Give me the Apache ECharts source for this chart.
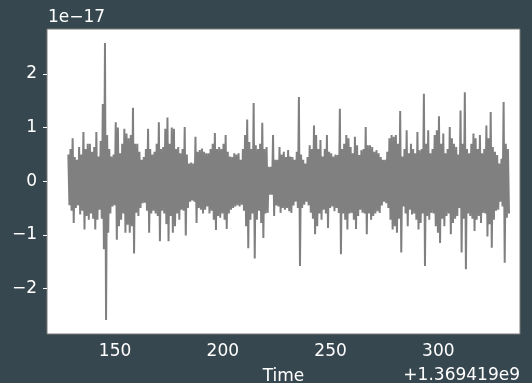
<!DOCTYPE html>
<html><head><meta charset="utf-8">
<script src="https://cdn.jsdelivr.net/npm/echarts@6/dist/echarts.min.js"></script>
<style>html,body{margin:0;padding:0;background:#37474f;}#c{width:532px;height:383px;}</style>
</head><body><div id="c"></div>
<script>
// time axis: seconds offset from 1.369419e9; values in units of 1e-17
var tStart = 128.3;
var tStep = 1;
var upperVals = [
0.5,0.6,0.8,0.45,0.4,0.64,0.5,0.92,0.6,0.7,0.7,0.55,0.64,0.92,0.46,0.75,1.44,2.58,0.86,0.6,
0.46,0.5,1.1,1.0,0.52,0.7,0.98,0.89,0.8,0.86,1.37,0.7,0.7,0.55,0.4,0.45,0.6,0.98,0.6,0.5,
0.55,0.7,1.1,0.6,0.64,0.98,1.19,0.7,1.0,0.98,0.6,0.64,0.52,0.6,1.01,0.5,0.33,0.35,0.33,0.83,
0.55,0.58,0.61,0.55,0.52,0.52,0.6,0.7,0.9,0.6,0.64,0.6,0.7,0.86,0.55,0.46,0.45,0.52,0.5,0.52,
0.4,0.6,0.86,1.15,0.73,0.6,1.46,0.67,0.6,0.7,1.09,0.6,0.64,0.27,0.27,0.86,0.4,0.4,0.64,0.5,
0.55,0.45,0.58,0.46,0.45,0.4,0.55,1.57,0.5,0.4,0.33,0.45,0.67,0.6,1.04,0.86,0.6,0.77,0.46,0.6,
0.86,0.55,0.52,0.46,0.5,0.49,1.35,0.6,0.7,0.86,0.8,0.64,0.52,0.83,0.67,0.49,0.58,0.6,1.01,0.67,
0.67,0.64,0.55,0.58,0.52,0.45,0.4,0.4,0.55,0.8,0.86,0.83,0.86,0.7,1.31,0.46,0.6,0.95,0.52,0.7,
0.6,0.52,0.92,0.58,0.6,1.63,0.7,0.95,0.52,0.6,0.86,0.95,1.21,0.7,0.89,0.52,0.6,1.01,0.8,0.7,
0.64,0.5,1.32,0.7,1.66,0.6,0.52,0.7,0.89,0.8,0.6,0.86,0.52,0.6,1.04,0.8,1.29,0.64,0.55,0.49,
0.33,0.42,1.48,0.7,0.6
];
var lowerVals = [
-0.45,-0.55,-0.78,-0.5,-0.45,-0.62,-0.55,-0.9,-0.65,-0.72,-0.6,-0.7,-0.9,-0.72,-0.53,-0.7,-1.27,-2.59,-0.96,-0.6,
-0.47,-0.45,-1.09,-0.84,-0.72,-0.6,-0.96,-0.81,-0.96,-0.84,-1.35,-0.59,-0.65,-0.5,-0.41,-0.4,-0.55,-0.96,-0.6,-0.55,
-0.6,-0.65,-1.12,-0.55,-0.6,-0.8,-1.12,-0.65,-0.96,-0.84,-0.6,-0.72,-0.53,-0.55,-1.01,-0.5,-0.38,-0.36,-0.38,-0.78,
-0.5,-0.53,-0.6,-0.53,-0.47,-0.6,-0.55,-0.72,-0.91,-0.65,-0.68,-0.6,-0.72,-0.89,-0.6,-0.53,-0.5,-0.47,-0.45,-0.47,
-0.44,-0.55,-0.84,-1.25,-0.72,-0.6,-1.44,-0.72,-0.55,-0.78,-1.06,-0.6,-0.59,-0.25,-0.25,-0.65,-0.45,-0.47,-0.59,-0.5,
-0.53,-0.5,-0.56,-0.59,-0.45,-0.38,-0.5,-1.58,-0.5,-0.44,-0.38,-0.45,-0.59,-0.7,-0.99,-0.84,-0.6,-0.72,-0.53,-0.6,
-0.87,-0.5,-0.47,-0.56,-0.5,-0.59,-1.36,-0.6,-0.72,-0.9,-0.6,-0.59,-0.72,-0.89,-0.65,-0.53,-0.59,-0.6,-0.99,-0.6,
-0.72,-0.65,-0.6,-0.56,-0.59,-0.45,-0.38,-0.41,-0.5,-0.72,-0.9,-0.84,-0.96,-0.7,-1.33,-0.47,-0.6,-0.84,-0.53,-0.62,
-0.6,-0.72,-0.9,-0.78,-0.6,-1.58,-0.65,-0.72,-0.59,-0.6,-0.84,-0.96,-1.15,-0.7,-0.84,-0.65,-0.6,-0.99,-0.78,-0.7,
-0.65,-0.5,-1.33,-0.7,-1.64,-0.6,-0.65,-0.7,-0.93,-0.72,-0.65,-0.78,-0.59,-0.6,-1.03,-0.8,-1.24,-0.72,-0.55,-0.53,
-0.38,-0.47,-1.52,-0.68,-0.6
];
var xTickValues = [150, 200, 250, 300];
var yTickValues = [-2, -1, 0, 1, 2];
var xRange = [118.4, 337.9];
var yRange = [-2.85, 2.84];

var seriesData = [];
var n = Math.min(upperVals.length, lowerVals.length);
for (var i = 0; i < n; i++) {
  var t = tStart + i * tStep;
  seriesData.push([t, upperVals[i]]);
  seriesData.push([t + tStep / 2, lowerVals[i]]);
}

var fontFam = 'DejaVu Sans';
function fmt(v){ return String(v).replace('-', '\u2212'); }

var chart = echarts.init(document.getElementById('c'), null, {renderer: 'canvas'});
chart.setOption({
  animation: false,
  backgroundColor: '#37474f',
  grid: {left: 47, right: 12, top: 29, bottom: 49, containLabel: false, outerBoundsMode: 'none',
         show: true, backgroundColor: '#ffffff', borderColor: '#7a7a7a', borderWidth: 1},
  xAxis: {
    type: 'value', min: xRange[0], max: xRange[1],
    name: 'Time', nameLocation: 'middle', nameGap: 34,
    nameTextStyle: {color: '#ffffff', fontFamily: fontFam, fontSize: 17},
    axisLine: {show: false},
    splitLine: {show: false},
    axisTick: {show: true, length: 4, lineStyle: {color: '#ffffff'}, customValues: xTickValues},
    axisLabel: {color: '#ffffff', fontFamily: fontFam, fontSize: 17, margin: 9, customValues: xTickValues, formatter: fmt}
  },
  yAxis: {
    type: 'value', min: yRange[0], max: yRange[1],
    axisLine: {show: false},
    splitLine: {show: false},
    axisTick: {show: true, length: 4, lineStyle: {color: '#ffffff'}, customValues: yTickValues},
    axisLabel: {color: '#ffffff', fontFamily: fontFam, fontSize: 17, margin: 10, customValues: yTickValues, formatter: fmt}
  },
  graphic: [
    {type: 'text', left: 48, top: 9, style: {text: '1e\u221217', fill: '#ffffff', font: '17px "DejaVu Sans"'}},
    {type: 'text', right: 12, top: 367, style: {text: '+1.369419e9', fill: '#ffffff', font: '17px "DejaVu Sans"'}}
  ],
  series: [{
    type: 'line', data: seriesData, showSymbol: false, symbol: 'none',
    lineStyle: {color: '#808080', width: 2}, clip: true
  }]
});
</script></body></html>
